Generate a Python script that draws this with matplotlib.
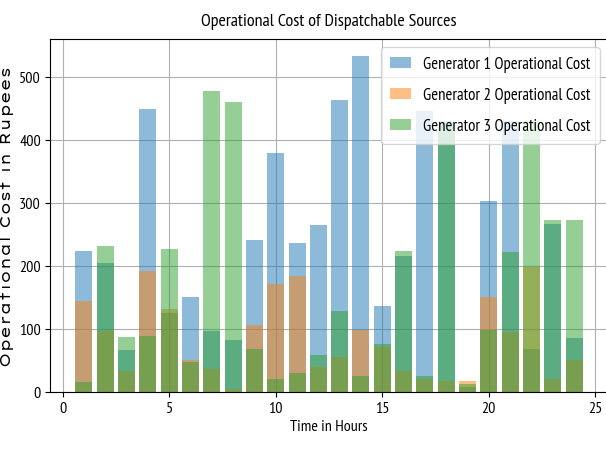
import matplotlib
matplotlib.use("Agg")
import matplotlib.pyplot as plt
import numpy as np

# hourly operational cost (Rupees)
hours = np.arange(1, 25)
gen1_cost = [224, 205, 66, 448, 125, 150, 96, 83, 241, 379, 236, 265,
             463, 533, 136, 216, 445, 425, 8, 303, 430, 68, 266, 86]
gen2_cost = [145, 97, 34, 192, 131, 50, 36, 5, 107, 171, 184, 40,
             55, 98, 72, 34, 20, 18, 18, 151, 95, 198, 20, 50]
gen3_cost = [16, 232, 87, 88, 227, 48, 478, 460, 68, 20, 30, 59,
             128, 26, 76, 223, 26, 430, 12, 98, 222, 430, 273, 273]

narrow = ['PT Sans Narrow', 'DejaVu Sans']
wide = ['Lexend Zetta', 'DejaVu Sans']

fig = plt.figure(figsize=(6.06, 4.56), dpi=100)
ax = fig.add_axes([50 / 606, 63 / 456, 558 / 606, 353 / 456])

ax.bar(hours, gen1_cost, alpha=0.5, label='Generator 1 Operational Cost')
ax.bar(hours, gen2_cost, alpha=0.5, label='Generator 2 Operational Cost')
ax.bar(hours, gen3_cost, alpha=0.5, label='Generator 3 Operational Cost')

ax.set_title('Operational Cost of Dispatchable Sources', family=narrow, fontsize=13, pad=10)
ax.set_xlabel('Time in Hours', family=narrow, fontsize=11.5, labelpad=3)
ax.set_ylabel('Operational Cost in Rupees', family=wide, fontsize=10, labelpad=4)
ax.grid(True)
ax.set_axisbelow(True)
ax.tick_params(labelsize=11.5, pad=3)
for lab in ax.get_xticklabels() + ax.get_yticklabels():
    lab.set_family(narrow)

ax.legend(loc='upper right', prop={'family': narrow, 'size': 12},
          handlelength=1.3, handleheight=0.6, handletextpad=0.7, labelspacing=0.9,
          borderpad=0.55)

fig.savefig('out.png', dpi=100)
